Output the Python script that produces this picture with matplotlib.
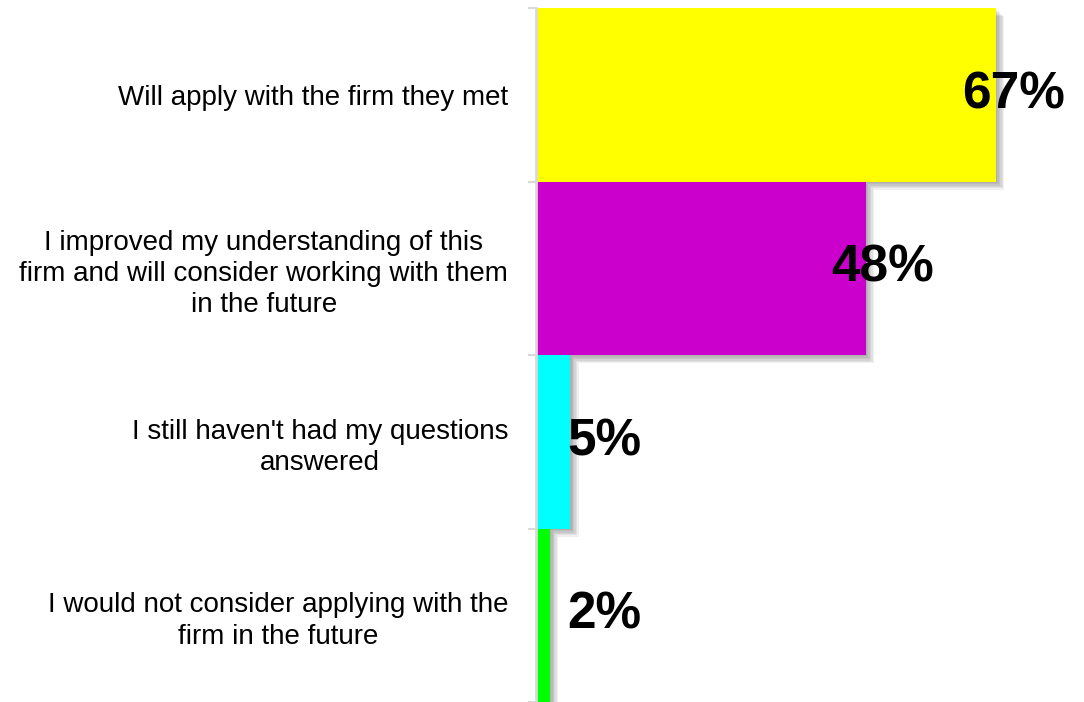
import matplotlib.pyplot as plt
from matplotlib import patheffects as pe

categories = [
    "Will apply with the firm they met",
    "I improved my understanding of this\nfirm and will consider working with them\nin the future",
    "I still haven't had my questions\nanswered",
    "I would not consider applying with the\nfirm in the future",
]
percent = [67, 48, 5, 2]
colors = ["#FFFF00", "#CC00CC", "#00FFFF", "#00FF00"]

plt.rcParams['font.family'] = ['Liberation Sans', 'DejaVu Sans']

fig = plt.figure(figsize=(10.84, 7.02), dpi=100)
ax = fig.add_axes([536 / 1084, 0, 548 / 1084, 694 / 702])

# soft drop shadow: a few offset copies with low alpha, then the bar itself
shadow = [pe.SimplePatchShadow(offset=(d, -d), shadow_rgbFace='k', alpha=0.06)
          for d in (1, 2, 3, 4, 5, 6)]

pos = list(range(len(categories)))
bars = ax.barh(pos, percent, height=1.0, color=colors, linewidth=0)
for b in bars:
    b.set_path_effects(shadow + [pe.Normal()])

for p, v in zip(pos, percent):
    ax.text(max(v - 5, 4.5), p, f"{v}%", ha='left', va='center',
            fontsize=37, fontweight='bold', color='black')

ax.set_xlim(0, 548 / 6.866)
ax.set_ylim(len(categories) - 0.5, -0.5)

ax.set_yticks(pos)
ax.set_yticklabels(categories, fontsize=20)
for lab in ax.get_yticklabels():
    lab.set_multialignment('center')
    lab.set_linespacing(1.27)
ax.tick_params(axis='y', which='major', length=0, pad=20)
ax.set_yticks([i - 0.5 for i in range(len(categories) + 1)], minor=True)
ax.tick_params(axis='y', which='minor', length=6, width=1.5, color='#d9d9d9')
ax.set_xticks([])

for s in ('top', 'right', 'bottom'):
    ax.spines[s].set_visible(False)
ax.spines['left'].set_color('#d9d9d9')
ax.spines['left'].set_linewidth(2)

fig.savefig('out.png', dpi=100)
